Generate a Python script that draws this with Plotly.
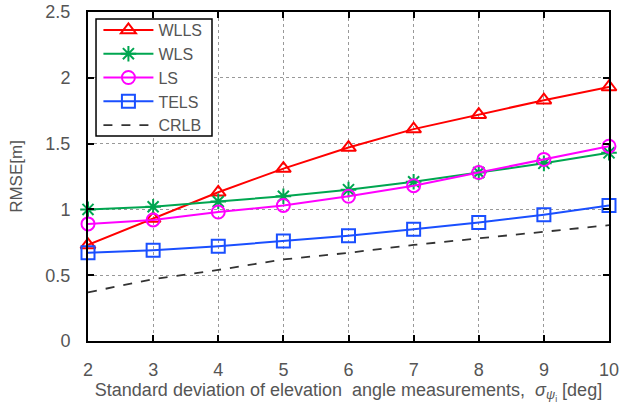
import plotly.graph_objects as go

x_vals = [2, 3, 4, 5, 6, 7, 8, 9, 10]
wlls = [0.73, 0.93, 1.13, 1.31, 1.47, 1.61, 1.72, 1.83, 1.93]
wls = [1.00, 1.02, 1.06, 1.10, 1.15, 1.21, 1.28, 1.35, 1.43]
ls = [0.89, 0.92, 0.98, 1.03, 1.10, 1.18, 1.28, 1.38, 1.48]
tels = [0.67, 0.69, 0.72, 0.76, 0.80, 0.85, 0.90, 0.96, 1.03]
crlb = [0.37, 0.47, 0.54, 0.62, 0.67, 0.73, 0.78, 0.83, 0.88]

fig = go.Figure()
series = [
    ("WLLS", wlls, "#ff0000", "triangle-up-open", 13),
    ("WLS", wls, "#00a650", "asterisk-open", 13),
    ("LS", ls, "#ff00ff", "circle-open", 13),
    ("TELS", tels, "#1a4fff", "square-open", 13),
]
for name, y, c, sym, sz in series:
    fig.add_trace(go.Scatter(x=x_vals, y=y, name=name, mode="lines+markers",
                             line=dict(color=c, width=2),
                             marker=dict(symbol=sym, size=sz, color=c,
                                         line=dict(color=c, width=2)),
                             cliponaxis=False))
fig.add_trace(go.Scatter(x=x_vals, y=crlb, name="CRLB", mode="lines",
                         line=dict(color="#333333", width=1.8, dash="dash")))

axis_common = dict(showline=True, linecolor="black", linewidth=2, mirror="allticks",
                   ticks="inside", ticklen=6, tickwidth=2, tickcolor="black",
                   showgrid=True, gridcolor="#999999", griddash="dot", gridwidth=1,
                   zeroline=False, automargin=False, ticklabeloverflow="allow",
                   tickfont=dict(size=18, color="#555555"))

fig.update_xaxes(range=[2, 10], dtick=1, tick0=2, ticklabelstandoff=11,
                 title=dict(text="Standard deviation of elevation  angle measurements,  <i>σ</i><sub><i>ψ</i><sub>i</sub></sub> [deg]",
                            font=dict(size=18, color="#555555"), standoff=2),
                 **axis_common)
fig.update_yaxes(range=[0, 2.5], dtick=0.5, ticklabelstandoff=12,
                 title=dict(text="RMSE[m]", font=dict(size=17, color="#555555"), standoff=18),
                 **axis_common)

# legend frame drawn as a shape (white fill, black border)
fig.add_shape(type="rect", xref="paper", yref="paper",
              x0=0.0154, x1=0.238, y0=0.623, y1=0.9787,
              line=dict(color="black", width=1.5), fillcolor="white", layer="above")

fig.update_layout(
    width=619, height=405,
    margin=dict(l=88, r=10, t=12, b=64),
    plot_bgcolor="white", paper_bgcolor="white",
    font=dict(family="Liberation Sans, Arial, sans-serif", color="#555555"),
    legend=dict(x=0.02, y=0.997, xanchor="left", yanchor="top",
                bgcolor="rgba(0,0,0,0)", borderwidth=0,
                font=dict(size=16, color="#555555"),
                itemwidth=50, tracegroupgap=0),
    showlegend=True,
)

fig.write_html("out.html", config={"displayModeBar": False},
               post_script="document.body.style.margin='0';")
